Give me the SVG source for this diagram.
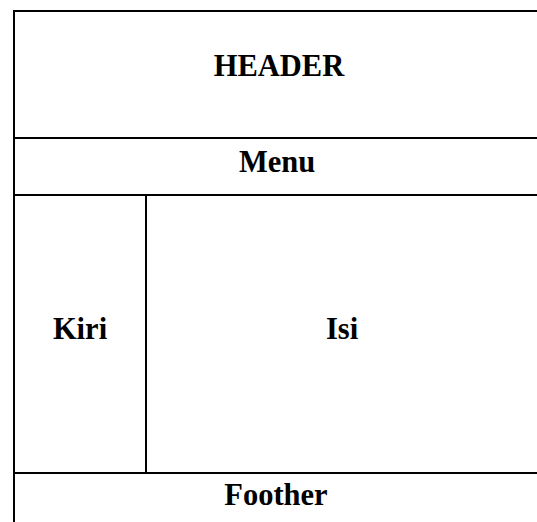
<svg xmlns="http://www.w3.org/2000/svg" width="537" height="522" viewBox="0 0 537 522">
<style>
.ln{stroke:#000;stroke-width:2;fill:none}
.t{font-family:"Liberation Serif","Times New Roman",serif;font-weight:bold;font-size:30.5px;fill:#000;text-anchor:middle}
</style>
<rect width="537" height="522" fill="#fff"/>
<g id="connectors">
<line class="ln" x1="14" y1="11" x2="537" y2="11"/>
<line class="ln" x1="14" y1="10" x2="14" y2="522"/>
<line class="ln" x1="14" y1="138" x2="537" y2="138"/>
<line class="ln" x1="14" y1="195" x2="537" y2="195"/>
<line class="ln" x1="146" y1="195" x2="146" y2="473"/>
<line class="ln" x1="14" y1="473" x2="537" y2="473"/>
</g>
<g id="header"><text class="t" x="279" y="76">HEADER</text></g>
<g id="menu"><text class="t" x="277" y="172">Menu</text></g>
<g id="kiri"><text class="t" x="80" y="339">Kiri</text></g>
<g id="isi"><text class="t" x="342" y="339">Isi</text></g>
<g id="foother"><text class="t" x="276" y="505">Foother</text></g>
</svg>
